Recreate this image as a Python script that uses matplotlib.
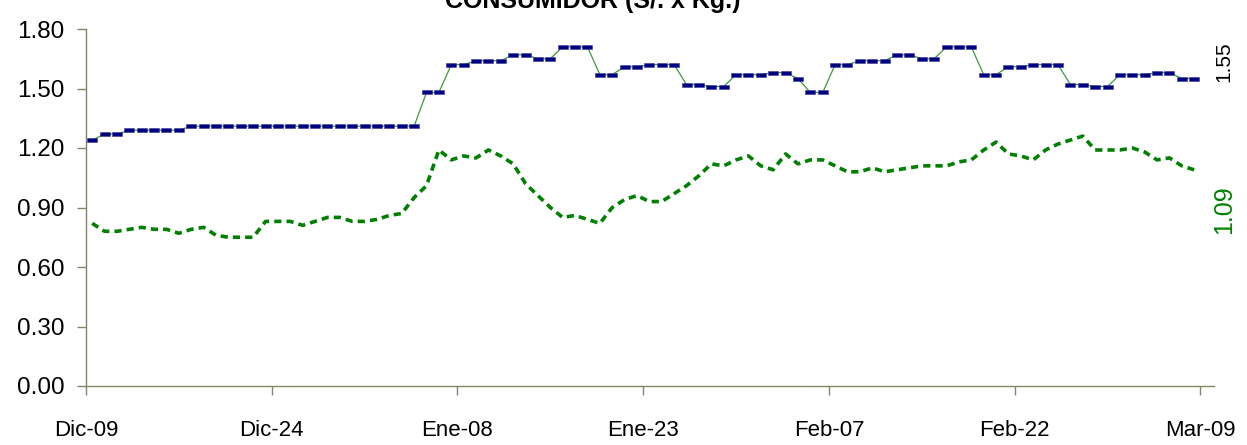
import matplotlib
matplotlib.use('Agg')
import matplotlib.pyplot as plt
from matplotlib import font_manager

names = {f.name for f in font_manager.fontManager.ttflist}
font = 'Liberation Sans' if 'Liberation Sans' in names else 'DejaVu Sans'
plt.rcParams['font.family'] = [font, 'DejaVu Sans']

title = "CONSUMIDOR (S/. x Kg.)"
tick_days = [0, 15, 30, 45, 60, 75, 90]
tick_labels = ["Dic-09", "Dic-24", "Ene-08", "Ene-23", "Feb-07", "Feb-22", "Mar-09"]
y_ticks = [0.0, 0.3, 0.6, 0.9, 1.2, 1.5, 1.8]

blue = ([1.24, 1.27, 1.27] + [1.29] * 5 + [1.31] * 19 +
        [1.48, 1.48, 1.62, 1.62, 1.64, 1.64, 1.64, 1.67, 1.67, 1.65, 1.65,
         1.71, 1.71, 1.71, 1.57, 1.57, 1.61, 1.61, 1.62, 1.62, 1.62,
         1.52, 1.52, 1.51, 1.51, 1.57, 1.57, 1.57, 1.58, 1.58, 1.55] +
        [1.48, 1.48, 1.62, 1.62, 1.64, 1.64, 1.64, 1.67, 1.67, 1.65, 1.65,
         1.71, 1.71, 1.71, 1.57, 1.57, 1.61, 1.61, 1.62, 1.62, 1.62,
         1.52, 1.52, 1.51, 1.51, 1.57, 1.57, 1.57, 1.58, 1.58, 1.55, 1.55])

green = [0.82, 0.78, 0.78, 0.79, 0.80, 0.79, 0.79, 0.77, 0.79, 0.80,
         0.76, 0.75, 0.75, 0.75, 0.83, 0.83, 0.83, 0.81, 0.83, 0.85,
         0.85, 0.83, 0.83, 0.84, 0.86, 0.87, 0.95, 1.01, 1.19, 1.14,
         1.16, 1.15, 1.19, 1.16, 1.12, 1.02, 0.96, 0.90, 0.85, 0.86,
         0.84, 0.82, 0.90, 0.94, 0.96, 0.93, 0.93, 0.97, 1.01, 1.06,
         1.12, 1.11, 1.14, 1.16, 1.11, 1.09, 1.17, 1.12, 1.14, 1.14,
         1.11, 1.08, 1.08, 1.10, 1.08, 1.09, 1.10, 1.11, 1.11, 1.11,
         1.13, 1.14, 1.19, 1.23, 1.17, 1.16, 1.14, 1.19, 1.22, 1.24,
         1.26, 1.19, 1.19, 1.19, 1.20, 1.18, 1.14, 1.15, 1.11, 1.09]

days = [i + 0.5 for i in range(len(blue))]

W, H = 1247, 445
fig = plt.figure(figsize=(W / 100, H / 100), dpi=100)
ax = fig.add_axes([86 / W, 1 - 386 / H, (1214 - 86) / W, (386 - 29) / H])

axis_col = '#85856a'
ax.plot(days, green, color='#008000', lw=2.6, dashes=(2.0, 1.4),
        dash_capstyle='butt', zorder=2)
rect = [(-1.2, -0.5), (1.2, -0.5), (1.2, 0.5), (-1.2, 0.5), (-1.2, -0.5)]
ax.plot(days, blue, color='#3c9a3c', lw=0.9, zorder=3)
ax.plot(days, blue, ls='none', marker=rect, markersize=6.8, color='#000080',
        markeredgecolor='#3a3aa0', markeredgewidth=0.4, zorder=4)

ax.set_xlim(0, 91.1)
ax.set_ylim(0, 1.8)
ax.set_xticks(tick_days)
ax.set_xticklabels(tick_labels)
ax.set_yticks(y_ticks)
ax.set_yticklabels([f"{v:.2f}" for v in y_ticks])
for s in ['top', 'right']:
    ax.spines[s].set_visible(False)
for s in ['left', 'bottom']:
    ax.spines[s].set_color(axis_col)
    ax.spines[s].set_linewidth(1.0)
ax.tick_params(axis='y', length=6.5, width=1.0, color=axis_col, labelsize=17.5, pad=9)
ax.tick_params(axis='x', length=6.5, width=1.0, color=axis_col, labelsize=16, pad=18)
ax.patch.set_visible(False)

fig.text(593 / W, 1 - 8 / H, title, ha='center', va='baseline',
         fontsize=18, fontweight='bold')
fig.text(1224 / W, 1 - 62 / H, f"{blue[-1]:.2f}", rotation=90, ha='center',
         va='center', fontsize=15, color='black')
fig.text(1224 / W, 1 - 210 / H, f"{green[-1]:.2f}", rotation=90, ha='center',
         va='center', fontsize=18, color='#008000')

fig.savefig('out.png', dpi=100)
